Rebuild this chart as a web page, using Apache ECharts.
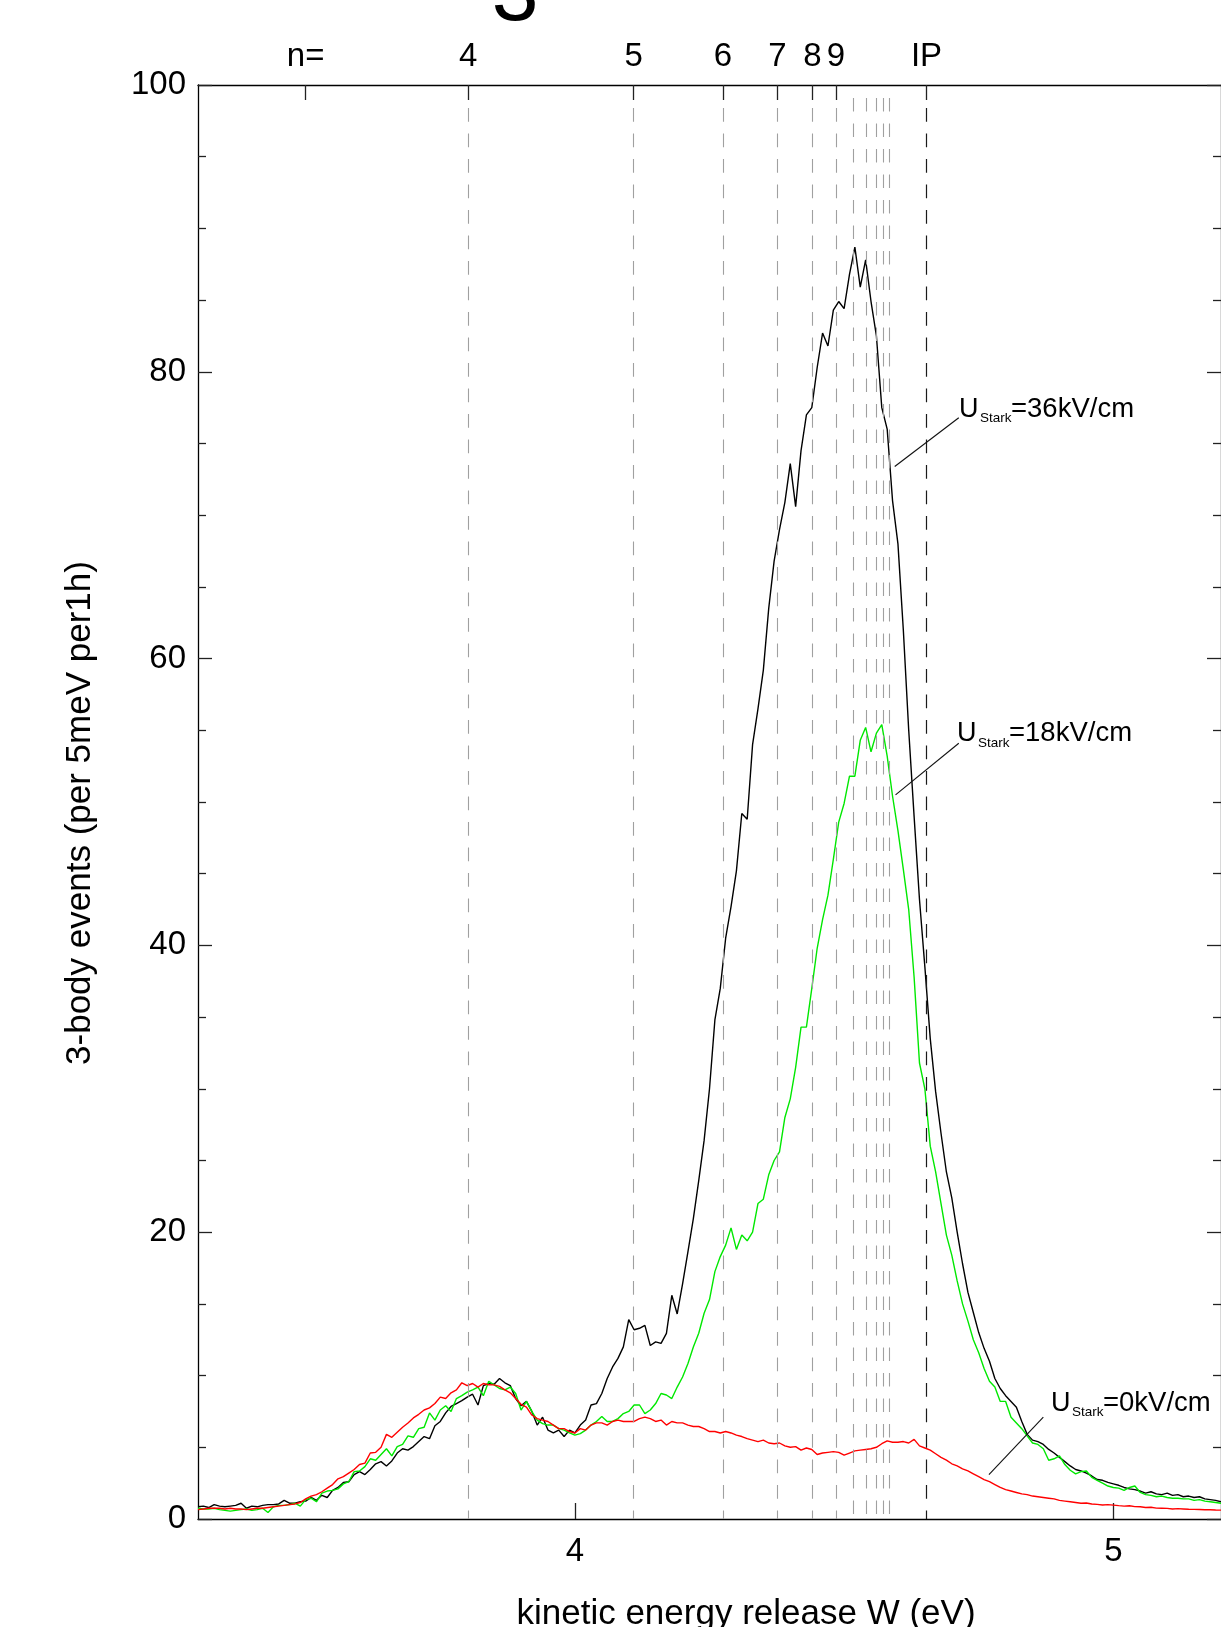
<!DOCTYPE html>
<html>
<head>
<meta charset="utf-8">
<script src="https://cdn.jsdelivr.net/npm/echarts@6/dist/echarts.min.js"></script>
<style>
html,body{margin:0;padding:0;background:#fff;}
#c{width:1221px;height:1627px;}
</style>
</head>
<body>
<div id="c"></div>
<script>
// kinetic energy release W (eV), 10 meV steps
const energy = [
3.30,3.31,3.32,3.33,3.34,3.35,3.36,3.37,3.38,3.39,
3.40,3.41,3.42,3.43,3.44,3.45,3.46,3.47,3.48,3.49,
3.50,3.51,3.52,3.53,3.54,3.55,3.56,3.57,3.58,3.59,
3.60,3.61,3.62,3.63,3.64,3.65,3.66,3.67,3.68,3.69,
3.70,3.71,3.72,3.73,3.74,3.75,3.76,3.77,3.78,3.79,
3.80,3.81,3.82,3.83,3.84,3.85,3.86,3.87,3.88,3.89,
3.90,3.91,3.92,3.93,3.94,3.95,3.96,3.97,3.98,3.99,
4.00,4.01,4.02,4.03,4.04,4.05,4.06,4.07,4.08,4.09,
4.10,4.11,4.12,4.13,4.14,4.15,4.16,4.17,4.18,4.19,
4.20,4.21,4.22,4.23,4.24,4.25,4.26,4.27,4.28,4.29,
4.30,4.31,4.32,4.33,4.34,4.35,4.36,4.37,4.38,4.39,
4.40,4.41,4.42,4.43,4.44,4.45,4.46,4.47,4.48,4.49,
4.50,4.51,4.52,4.53,4.54,4.55,4.56,4.57,4.58,4.59,
4.60,4.61,4.62,4.63,4.64,4.65,4.66,4.67,4.68,4.69,
4.70,4.71,4.72,4.73,4.74,4.75,4.76,4.77,4.78,4.79,
4.80,4.81,4.82,4.83,4.84,4.85,4.86,4.87,4.88,4.89,
4.90,4.91,4.92,4.93,4.94,4.95,4.96,4.97,4.98,4.99,
5.00,5.01,5.02,5.03,5.04,5.05,5.06,5.07,5.08,5.09,
5.10,5.11,5.12,5.13,5.14,5.15,5.16,5.17,5.18,5.19,
5.20];

// U_Stark = 36 kV/cm (black)
const counts36 = [
0.85,0.9,0.8,1.0,0.9,0.85,0.9,0.95,1.1,0.75,
0.9,0.85,0.95,1.0,1.0,1.05,1.3,1.1,1.1,1.2,
1.25,1.5,1.3,1.65,1.5,2.0,2.2,2.55,2.6,3.1,
3.3,3.1,3.45,3.85,4.0,3.7,4.05,4.6,4.9,4.8,
5.05,5.4,5.75,5.6,6.5,6.8,7.4,7.85,8.05,8.25,
8.5,8.7,7.95,9.3,9.45,9.4,9.8,9.5,9.3,8.4,
7.9,8.2,7.5,6.55,7.1,6.2,6.0,6.2,5.75,6.2,
6.0,6.55,6.9,7.95,8.05,8.75,9.8,10.6,11.2,12.0,
13.9,13.2,13.3,13.5,12.1,12.35,12.25,12.95,15.6,14.3,
16.4,18.65,20.95,23.6,26.4,30.0,34.8,37.0,40.5,42.7,
45.2,49.2,48.8,54.0,56.5,59.2,63.5,66.8,69.0,70.9,
73.6,70.6,74.5,77.0,77.5,80.3,82.7,81.8,84.3,84.9,
84.4,86.8,88.7,85.9,87.8,84.9,82.5,77.5,76.0,71.0,
68.0,62.0,55.0,49.0,43.2,38.5,33.5,29.8,26.9,24.2,
22.4,20.0,17.8,15.8,14.4,13.0,11.9,11.0,9.8,9.1,
8.6,8.2,7.8,6.8,5.9,5.5,5.4,5.2,4.85,4.6,
4.3,4.0,3.7,3.45,3.35,3.2,3.0,2.75,2.7,2.55,
2.45,2.35,2.2,2.1,2.05,1.95,1.8,1.9,1.75,1.7,
1.8,1.65,1.7,1.55,1.6,1.5,1.55,1.4,1.35,1.3,
1.2];

// U_Stark = 18 kV/cm (green)
const counts18 = [
0.75,0.7,0.7,0.75,0.65,0.6,0.55,0.6,0.65,0.7,
0.6,0.65,0.75,0.45,0.85,0.95,0.95,1.0,1.1,0.9,
1.35,1.45,1.2,1.8,1.95,2.0,2.1,2.45,2.6,3.3,
3.35,3.65,4.2,4.1,4.5,4.9,4.4,5.05,5.2,5.8,
5.7,6.3,6.4,7.4,6.9,7.6,7.9,7.5,8.4,8.6,
8.85,9.0,9.2,8.6,9.6,9.35,9.1,9.0,9.2,8.75,
7.6,8.2,7.5,6.9,6.65,6.55,6.55,6.3,6.2,6.0,
5.85,5.95,6.2,6.55,6.8,7.15,6.8,6.8,7.0,7.35,
7.5,7.95,7.95,7.35,7.6,8.05,8.75,8.65,8.4,9.2,
9.9,10.85,12.0,12.95,14.35,15.3,17.25,18.3,19.1,20.3,
18.8,19.8,19.4,20.0,22.0,22.3,24.0,25.0,25.6,28.0,
29.3,31.5,34.3,34.3,37.0,39.8,41.8,43.5,46.0,48.6,
49.9,51.8,51.8,54.3,55.2,53.5,54.8,55.4,53.2,50.4,
48.0,45.3,42.5,37.8,31.8,30.0,26.0,24.2,22.0,19.8,
18.4,16.6,15.0,13.8,12.5,11.6,10.5,9.6,9.2,8.2,
8.2,7.1,6.7,6.3,5.8,5.3,5.2,4.9,4.1,4.2,
4.4,3.8,3.4,3.15,3.3,3.35,2.9,2.7,2.5,2.3,
2.2,2.15,2.0,2.2,2.3,1.85,1.7,1.65,1.55,1.6,
1.5,1.45,1.45,1.4,1.4,1.3,1.35,1.25,1.2,1.15,
1.1];

// U_Stark = 0 kV/cm (red)
const counts0 = [
0.65,0.7,0.75,0.75,0.75,0.7,0.75,0.7,0.7,0.65,
0.7,0.75,0.75,0.8,0.85,0.9,0.95,1.0,1.05,1.15,
1.4,1.6,1.7,1.9,2.15,2.4,2.8,2.95,3.2,3.45,
3.8,3.9,4.6,4.65,5.0,5.9,5.7,6.05,6.4,6.7,
7.05,7.3,7.6,7.75,8.05,8.5,8.4,8.8,9.0,9.5,
9.3,9.45,9.2,9.45,9.35,9.35,9.25,9.0,8.8,8.4,
8.0,7.8,7.25,7.0,6.9,6.8,6.55,6.3,6.3,6.1,
6.0,6.3,6.2,6.55,6.7,6.7,6.55,6.8,6.9,6.8,
6.8,6.8,7.0,7.1,7.0,6.8,6.9,6.55,6.8,6.7,
6.7,6.55,6.45,6.45,6.3,6.1,6.1,6.0,6.1,6.0,
5.85,5.75,5.6,5.5,5.4,5.5,5.3,5.25,5.3,5.1,
5.0,5.05,4.8,4.95,4.85,4.5,4.6,4.65,4.7,4.65,
4.45,4.6,4.75,4.8,4.85,4.9,5.0,5.25,5.45,5.35,
5.35,5.4,5.3,5.55,5.1,4.95,4.8,4.55,4.3,4.1,
3.85,3.7,3.5,3.35,3.15,2.95,2.75,2.6,2.4,2.2,
2.05,1.95,1.85,1.75,1.7,1.6,1.55,1.5,1.45,1.4,
1.3,1.25,1.2,1.15,1.1,1.12,1.05,1.02,0.98,1.0,
0.97,0.93,0.9,0.92,0.86,0.85,0.8,0.82,0.76,0.75,
0.74,0.7,0.72,0.7,0.68,0.67,0.66,0.64,0.65,0.63,
0.62];

// Rydberg levels n=4..14 and ionisation potential (eV)
const levelEnergies = [3.802, 4.109, 4.275, 4.376, 4.441, 4.485, 4.517, 4.541, 4.559, 4.573, 4.584];
const ionizationEnergy = 4.653;
const topTickValues = [3.5, 3.802, 4.109, 4.275, 4.376, 4.441, 4.485, 4.653];
const topTickLabels = ['n=', '4', '5', '6', '7', '8', '9', 'IP'];
const xTickValues = [4, 5];
const starkFields = ['36kV/cm', '18kV/cm', '0kV/cm'];
// leader lines of the annotations, in data coordinates [from, to]
const leaderLines = [
  [[4.594, 73.4], [4.713, 76.8]],
  [[4.5955, 50.5], [4.713, 54.1]],
  [[4.769, 3.1], [4.870, 7.1]]
];

const FONT = "'Liberation Sans', Arial, Helvetica, sans-serif";
const pairs = ys => energy.map((e, i) => [e, ys[i]]);

function txt(x, y, text, size, opts) {
  opts = opts || {};
  return Object.assign({
    type: 'text', x: x, y: y, silent: true,
    style: {
      text: text, fontSize: size, fontFamily: FONT, fill: '#000',
      align: opts.align || 'left', verticalAlign: 'middle',
      textAlign: opts.align || 'left', textVerticalAlign: 'middle'
    }
  }, opts.extra || {});
}
function starkLabel(x, y, field) {
  return [
    txt(x, y, 'U', 27),
    txt(x + 21, y + 9, 'Stark', 13.5),
    txt(x + 52, y, '=' + field, 27.5)
  ];
}

const levelLineData = levelEnergies.map(e => {
  const hasTick = topTickValues.some(t => Math.abs(t - e) < 1e-9);
  return [
    {coord: [e, hasTick ? 98.4 : 99.1], lineStyle: {color: '#a0a0a0', width: 1.1, type: [13.7, 11.8]}},
    {coord: [e, 0]}
  ];
});
levelLineData.push([
  {coord: [ionizationEnergy, 98.4], lineStyle: {color: '#1a1a1a', width: 1.2, type: [13.7, 11.8]}},
  {coord: [ionizationEnergy, 0]}
]);
leaderLines.forEach(l => {
  levelLineData.push([
    {coord: l[0], lineStyle: {color: '#111', width: 1.1, type: 'solid'}},
    {coord: l[1]}
  ]);
});

const tickStyle = {color: '#222', width: 1.3};
const chart = echarts.init(document.getElementById('c'), null, {renderer: 'canvas'});
chart.setOption({
  animation: false,
  backgroundColor: '#ffffff',
  grid: {left: 198, top: 85, width: 1024, height: 1434, containLabel: false},
  xAxis: [
    {
      type: 'value', min: 3.3, max: 5.2, position: 'bottom',
      axisLine: {show: true, onZero: false, lineStyle: {color: '#000', width: 1.3}},
      axisTick: {show: true, inside: true, length: 16, customValues: xTickValues, lineStyle: tickStyle},
      axisLabel: {show: true, customValues: xTickValues, margin: 16, fontSize: 33, color: '#000', fontFamily: FONT},
      splitLine: {show: false}
    },
    {
      type: 'value', min: 3.3, max: 5.2, position: 'top',
      axisLine: {show: true, onZero: false, lineStyle: {color: '#000', width: 1.3}},
      axisTick: {show: true, inside: true, length: 15, customValues: topTickValues, lineStyle: tickStyle},
      axisLabel: {
        show: true, customValues: topTickValues, margin: 12, fontSize: 33, color: '#000', fontFamily: FONT,
        formatter: v => {
          let k = 0;
          topTickValues.forEach((t, i) => { if (Math.abs(t - v) < Math.abs(topTickValues[k] - v)) k = i; });
          return topTickLabels[k];
        }
      },
      splitLine: {show: false}
    }
  ],
  yAxis: [
    {
      type: 'value', min: 0, max: 100, interval: 20, position: 'left',
      axisLine: {show: true, onZero: false, lineStyle: {color: '#000', width: 1.3}},
      axisTick: {show: true, inside: true, length: 14, lineStyle: tickStyle},
      minorTick: {show: true, splitNumber: 4, length: 8, lineStyle: tickStyle},
      axisLabel: {margin: 12, fontSize: 33, color: '#000', fontFamily: FONT},
      splitLine: {show: false}, minorSplitLine: {show: false}
    },
    {
      type: 'value', min: 0, max: 100, interval: 20, position: 'right',
      axisLine: {show: true, onZero: false, lineStyle: {color: '#000', width: 1.3}},
      axisTick: {show: true, inside: true, length: 14, lineStyle: tickStyle},
      minorTick: {show: true, splitNumber: 4, length: 8, lineStyle: tickStyle},
      axisLabel: {show: false},
      splitLine: {show: false}, minorSplitLine: {show: false}
    }
  ],
  series: [
    {
      name: 'levels', type: 'line', data: [], xAxisIndex: 0, yAxisIndex: 0, silent: true,
      markLine: {silent: true, symbol: ['none', 'none'], label: {show: false}, animation: false, data: levelLineData}
    },
    {
      name: '36kV/cm', type: 'line', data: pairs(counts36), xAxisIndex: 0, yAxisIndex: 0,
      showSymbol: false, symbol: 'none', silent: true, lineStyle: {color: '#000000', width: 1.4}
    },
    {
      name: '18kV/cm', type: 'line', data: pairs(counts18), xAxisIndex: 0, yAxisIndex: 0,
      showSymbol: false, symbol: 'none', silent: true, lineStyle: {color: '#00e800', width: 1.4}
    },
    {
      name: '0kV/cm', type: 'line', data: pairs(counts0), xAxisIndex: 0, yAxisIndex: 0,
      showSymbol: false, symbol: 'none', silent: true, lineStyle: {color: '#ff0000', width: 1.4}
    }
  ],
  graphic: [
    txt(515, -3, '3', 84, {align: 'center'}),
    txt(80, 813, '3-body events (per 5meV per1h)', 35, {align: 'center', extra: {rotation: Math.PI / 2}}),
    txt(746, 1614, 'kinetic energy release W (eV)', 35, {align: 'center'})
  ].concat(
    starkLabel(959, 409.3, starkFields[0]),
    starkLabel(957, 733.8, starkFields[1]),
    starkLabel(1051, 1403.7, starkFields[2])
  )
});
</script>
</body>
</html>
